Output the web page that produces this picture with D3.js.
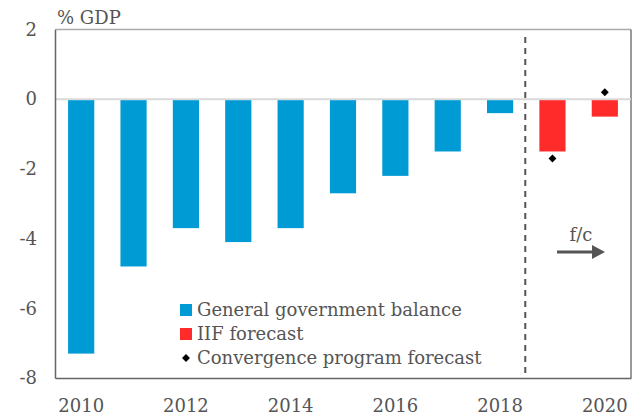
<!DOCTYPE html>
<html lang="en">
<head>
<meta charset="utf-8">
<title>Balance</title>
<script src="https://d3js.org/d3.v7.min.js"></script>
<style>
body { margin: 0; background: #fff; }
text { font-family: "DejaVu Serif", Georgia, serif; fill: #555; }
</style>
</head>
<body>
<div id="chart"></div>
<script>
var years = [2010, 2011, 2012, 2013, 2014, 2015, 2016, 2017, 2018, 2019, 2020];
var balance = [-7.3, -4.8, -3.7, -4.1, -3.7, -2.7, -2.2, -1.5, -0.4, null, null];
var iifForecast = [null, null, null, null, null, null, null, null, null, -1.5, -0.5];
var convergence = [null, null, null, null, null, null, null, null, null, -1.7, 0.2];
var yTicks = [2, 0, -2, -4, -6, -8];
var xTicks = [2010, 2012, 2014, 2016, 2018, 2020];
var legendItems = ["General government balance", "IIF forecast", "Convergence program forecast"];

var w = 638, h = 415;
var m = {top: 29.5, right: 7, bottom: 37, left: 55};
var fs = "18px";

var svg = d3.select("#chart").append("svg")
  .attr("width", w).attr("height", h);

var x = d3.scaleBand().domain(years)
  .range([m.left, w - m.right]).paddingInner(0.5).paddingOuter(0.25);
var y = d3.scaleLinear().domain([-8, 2]).range([h - m.bottom, m.top]);

// frame
svg.append("line").attr("x1", m.left).attr("x2", w - m.right)
  .attr("y1", y(2)).attr("y2", y(2)).attr("stroke", "#aaa").attr("stroke-width", 1.5);
svg.append("line").attr("x1", w - m.right).attr("x2", w - m.right)
  .attr("y1", y(2)).attr("y2", y(-8)).attr("stroke", "#777").attr("stroke-width", 1.5);

// zero line
svg.append("line").attr("x1", m.left).attr("x2", w - m.right)
  .attr("y1", y(0)).attr("y2", y(0)).attr("stroke", "#d9d9d9").attr("stroke-width", 2);

// bars
function bars(vals, color) {
  svg.append("g").selectAll("rect")
    .data(years.map(function(d, i) { return {year: d, v: vals[i]}; }).filter(function(d) { return d.v != null; }))
    .enter().append("rect")
    .attr("x", function(d) { return x(d.year); })
    .attr("width", x.bandwidth())
    .attr("y", function(d) { return y(Math.max(0, d.v)) + 1; })
    .attr("height", function(d) { return Math.abs(y(d.v) - y(0)) - 1; })
    .attr("fill", color);
}
bars(balance, "#009bd5");
bars(iifForecast, "#ff2a2a");

// diamonds
svg.append("g").selectAll("path")
  .data(years.map(function(d, i) { return {year: d, v: convergence[i]}; }).filter(function(d) { return d.v != null; }))
  .enter().append("path")
  .attr("d", d3.symbol().type(d3.symbolDiamond2).size(40))
  .attr("transform", function(d) { return "translate(" + (x(d.year) + x.bandwidth() / 2) + "," + y(d.v) + ")"; })
  .attr("fill", "#000");

// forecast divider
var divX = (x(2018) + x(2019) + x.bandwidth()) / 2 - 1;
svg.append("line").attr("x1", divX).attr("x2", divX)
  .attr("y1", 37).attr("y2", y(-8))
  .attr("stroke", "#555").attr("stroke-width", 2).attr("stroke-dasharray", "6,5");

// axes
var yAxis = svg.append("g").attr("transform", "translate(" + m.left + ",0)")
  .call(d3.axisLeft(y).tickValues(yTicks).tickSize(0).tickPadding(18));
yAxis.select(".domain").attr("stroke", "#666").attr("stroke-width", 1.5);
yAxis.selectAll("text").style("font-size", fs).attr("fill", "#555")
  .text(function(d) { return String(d); });

var xAxis = svg.append("g").attr("transform", "translate(0," + y(-8) + ")")
  .call(d3.axisBottom(x).tickValues(xTicks).tickSize(0).tickPadding(21));
xAxis.select(".domain").attr("stroke", "#666").attr("stroke-width", 1.5);
xAxis.selectAll("text").style("font-size", fs).attr("fill", "#555");

// unit label
svg.append("text").attr("x", 57).attr("y", 24).style("font-size", fs).text("% GDP");

// f/c arrow
svg.append("text").attr("x", 581).attr("y", 241).attr("text-anchor", "middle")
  .style("font-size", fs).text("f/c");
svg.append("line").attr("x1", 557).attr("x2", 594).attr("y1", 252).attr("y2", 252)
  .attr("stroke", "#555").attr("stroke-width", 3);
svg.append("path").attr("d", "M592,245 L605,252 L592,259 Z").attr("fill", "#555");

// legend
var legendColors = ["#009bd5", "#ff2a2a", "#000"];
var lg = svg.append("g").attr("transform", "translate(180,310)");
legendItems.forEach(function(t, i) {
  var row = lg.append("g").attr("transform", "translate(0," + i * 24 + ")");
  if (i < 2) {
    row.append("rect").attr("x", 0).attr("y", -6).attr("width", 12).attr("height", 12).attr("fill", legendColors[i]);
  } else {
    row.append("path").attr("d", d3.symbol().type(d3.symbolDiamond2).size(40))
      .attr("transform", "translate(6,0)").attr("fill", "#000");
  }
  row.append("text").attr("x", 17).attr("y", 6).style("font-size", fs).text(t);
});
</script>
</body>
</html>
